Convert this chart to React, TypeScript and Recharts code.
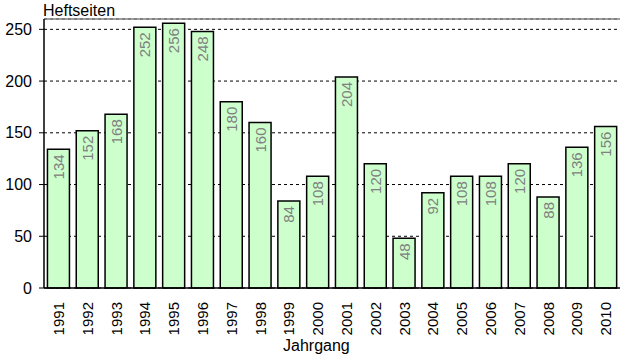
import { BarChart, Bar, XAxis, YAxis, CartesianGrid, ReferenceLine, LabelList } from 'recharts';

const years = ['1991', '1992', '1993', '1994', '1995', '1996', '1997', '1998', '1999', '2000',
  '2001', '2002', '2003', '2004', '2005', '2006', '2007', '2008', '2009', '2010'];
const pages = [134, 152, 168, 252, 256, 248, 180, 160, 84, 108, 204, 120, 48, 92, 108, 108, 120, 88, 136, 156];
const yTicks = [0, 50, 100, 150, 200, 250];
const boundaryTicks = years.map((_, i) => i).concat([years.length]);

const data = years.map((year, i) => ({ year, pages: pages[i] }));

const font = '"Liberation Sans", Arial, sans-serif';

function YearTick(props: any) {
  const { x, y, payload } = props;
  const ty = y + 8;
  return (
    <text
      x={x}
      y={ty}
      transform={`rotate(-90, ${x}, ${ty})`}
      textAnchor="end"
      dominantBaseline="central"
      fontSize={15}
      fontFamily={font}
      fill="#000"
    >
      {payload.value}
    </text>
  );
}

function ValueLabel(props: any) {
  const { x, y, width, value } = props;
  const cx = x + width / 2;
  const ty = y + 5;
  return (
    <text
      x={cx}
      y={ty}
      transform={`rotate(-90, ${cx}, ${ty})`}
      textAnchor="end"
      dominantBaseline="central"
      fontSize={15}
      fontFamily={font}
      fill="#808080"
    >
      {value}
    </text>
  );
}

export default function App() {
  return (
    <div style={{ position: 'absolute', left: 0, top: 0, width: 626, height: 359, background: '#fff' }}>
      <div style={{ position: 'absolute', left: 43, top: 2, fontFamily: font, fontSize: 16, color: '#000' }}>
        Heftseiten
      </div>
      <div style={{ position: 'absolute', left: 283, top: 337, fontFamily: font, fontSize: 16, color: '#000' }}>
        Jahrgang
      </div>
      <BarChart
        width={626}
        height={359}
        data={data}
        margin={{ top: 19, right: 6, left: 0, bottom: 5 }}
        barCategoryGap="12%"
      >
        <CartesianGrid horizontal vertical={false} stroke="#000" strokeDasharray="3 3" yAxisId="y" />
        <XAxis
          xAxisId="edges"
          type="number"
          domain={[0, years.length]}
          ticks={boundaryTicks}
          allowDataOverflow
          height={0}
          axisLine={false}
          tickLine={{ stroke: '#000', strokeWidth: 1.5 }}
          tickSize={6}
          tick={() => <g />}
        />
        <XAxis
          xAxisId="cat"
          dataKey="year"
          height={66}
          interval={0}
          axisLine={{ stroke: '#000', strokeWidth: 1.5 }}
          tickLine={false}
          tickMargin={0}
          tick={<YearTick />}
        />
        <YAxis
          yAxisId="y"
          domain={[0, 260]}
          ticks={yTicks}
          width={44}
          axisLine={{ stroke: '#000', strokeWidth: 1.5 }}
          tickLine={{ stroke: '#000' }}
          tickSize={5}
          tickMargin={7}
          tick={{ fontSize: 16, fontFamily: font, fill: '#000' }}
        />
        <ReferenceLine yAxisId="y" y={260} stroke="#808080" strokeWidth={1.5} />
        <ReferenceLine xAxisId="edges" yAxisId="y" x={years.length} stroke="#808080" strokeWidth={1.5} />
        <Bar
          xAxisId="cat"
          yAxisId="y"
          dataKey="pages"
          fill="#ccffcc"
          stroke="#000"
          strokeWidth={1.5}
          isAnimationActive={false}
        >
          <LabelList dataKey="pages" content={<ValueLabel />} />
        </Bar>
      </BarChart>
    </div>
  );
}
